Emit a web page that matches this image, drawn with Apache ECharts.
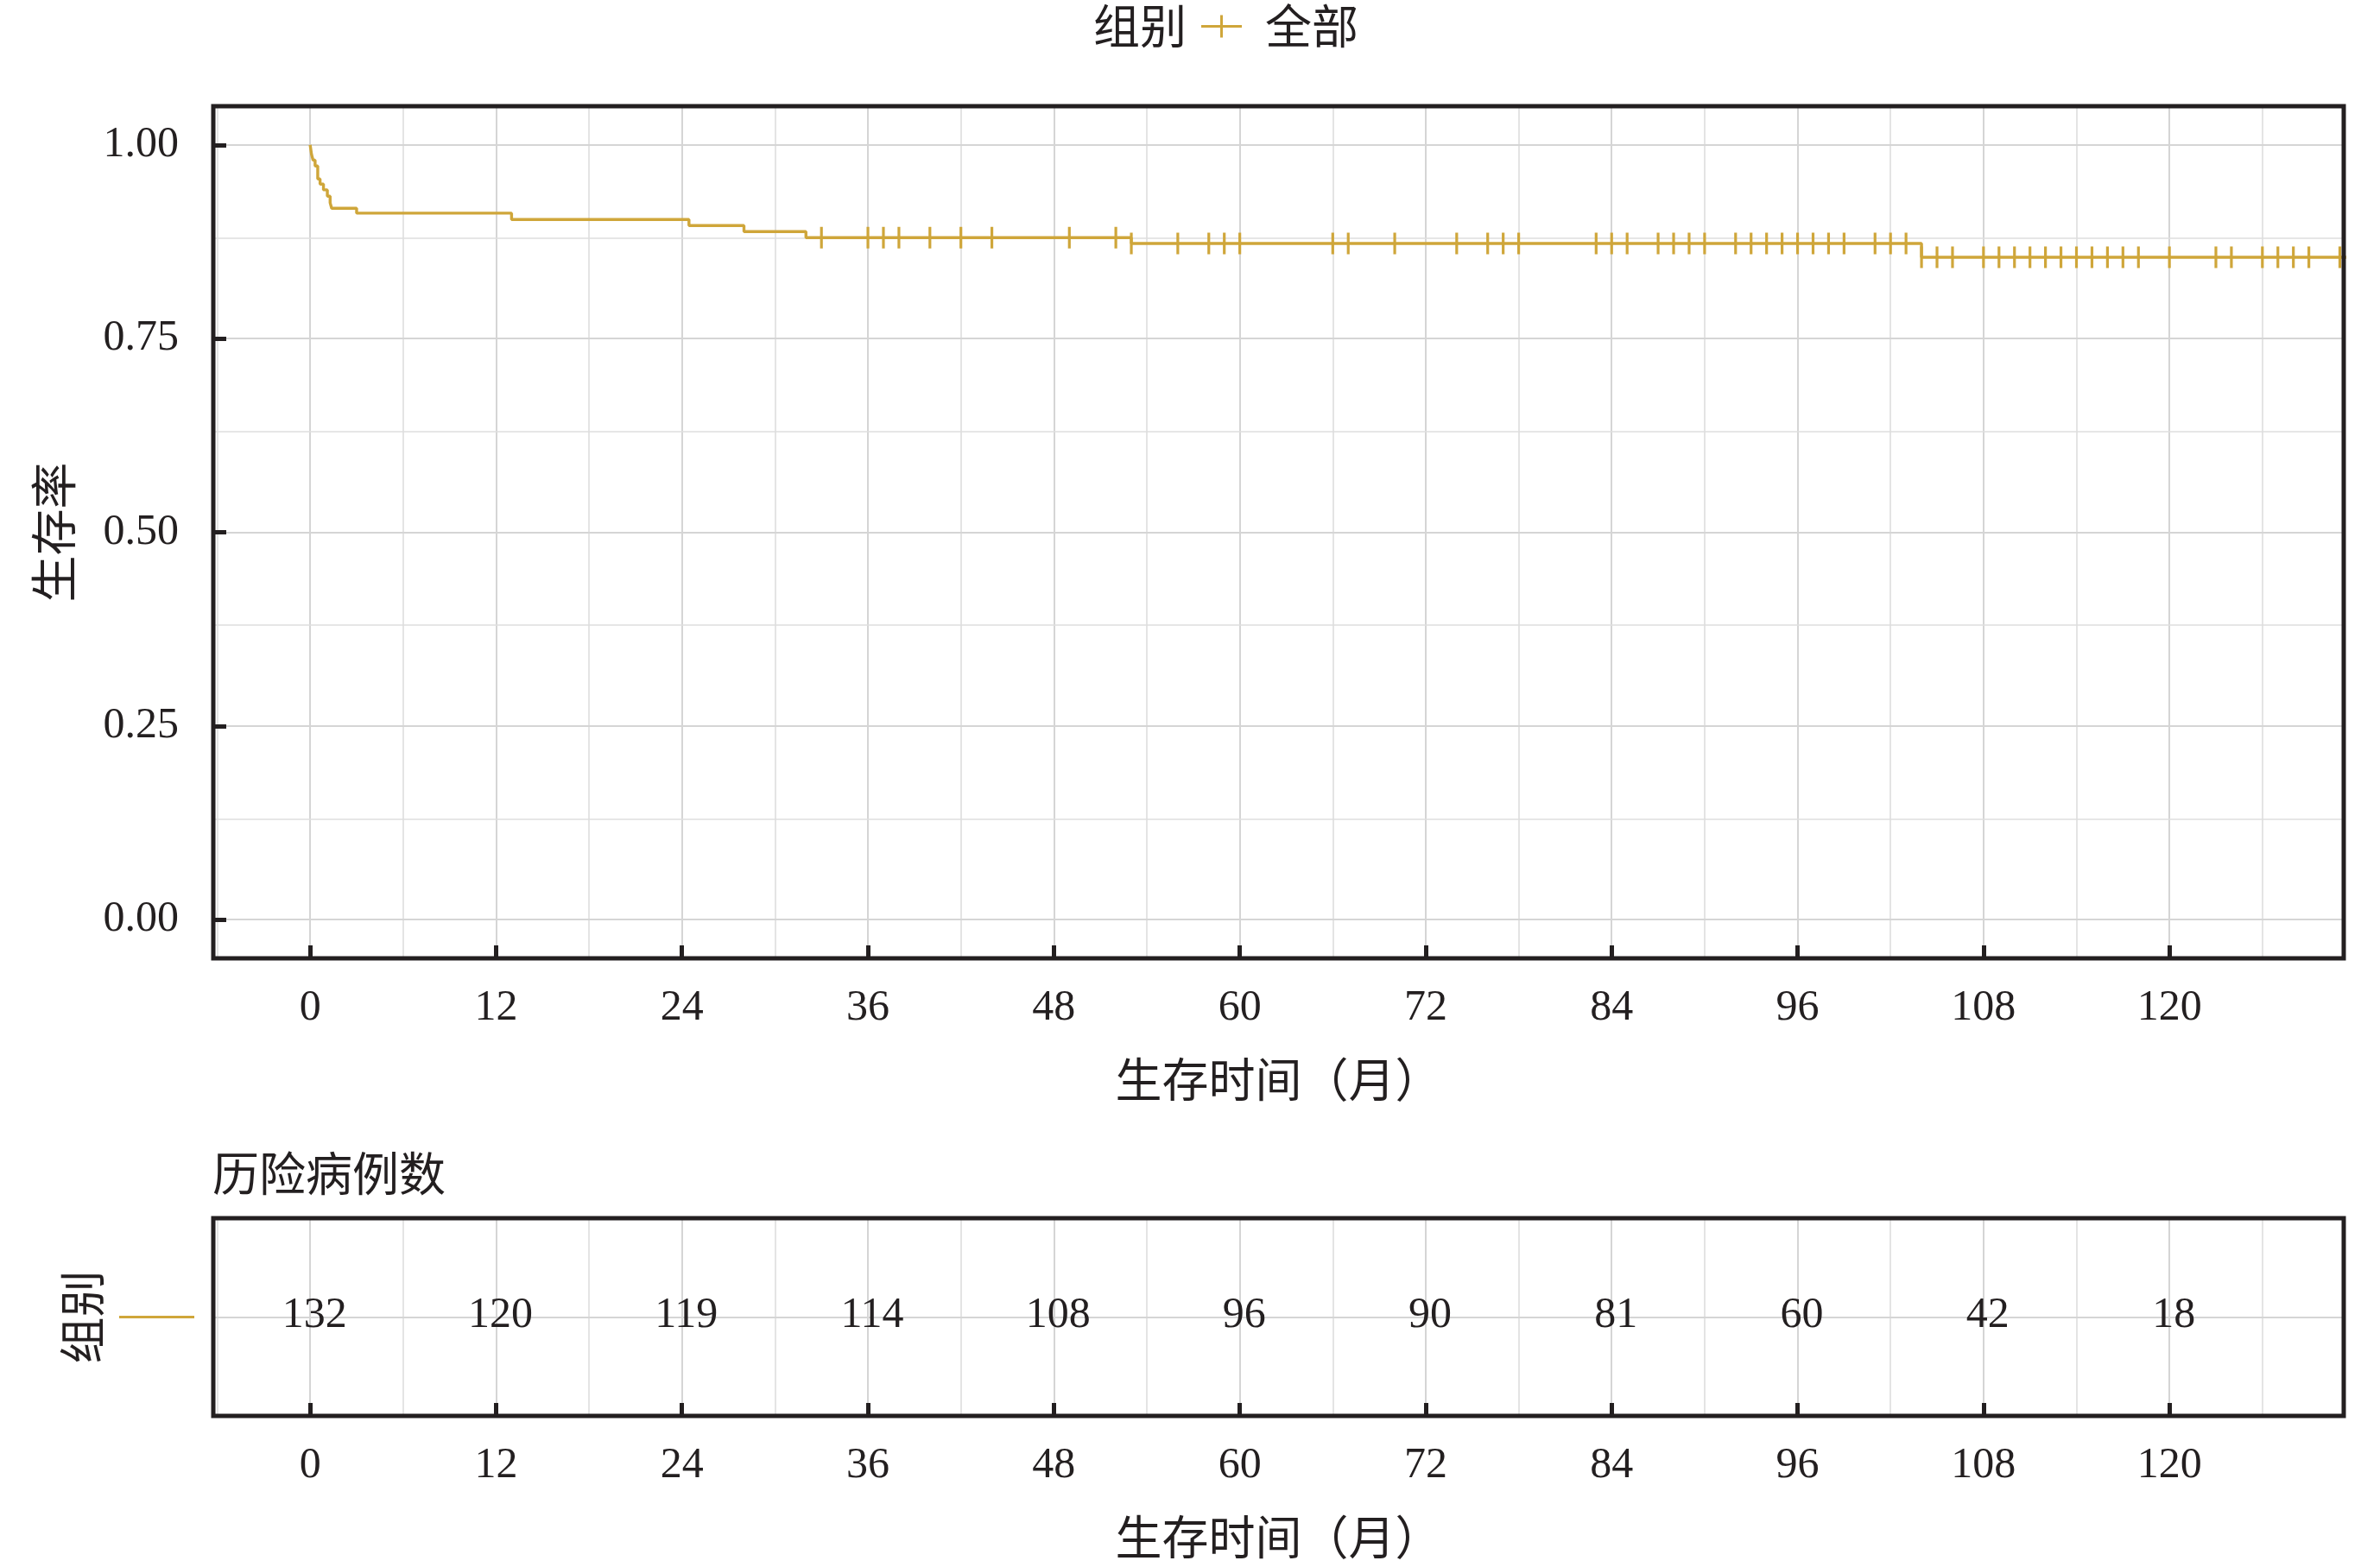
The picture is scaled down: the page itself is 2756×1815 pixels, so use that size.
<!DOCTYPE html>
<html><head><meta charset="utf-8">
<script src="https://cdn.jsdelivr.net/npm/echarts@6/dist/echarts.min.js"></script>
<style>html,body{margin:0;padding:0;background:#fff}#c{width:2756px;height:1815px}</style>
</head><body><div id="c"></div>
<script>
// ---------- data ----------
const groupName = '全部';
const kmTimes = [0, 0.09, 0.19, 0.32, 0.49, 0.64, 0.86, 1.11, 1.29, 1.39, 3.0, 13.0, 24.45, 28.0, 32.0, 53.0, 104.0, 131.9];
const kmSurv  = [1.0, 0.9877, 0.9803, 0.9729, 0.9561, 0.9495, 0.942, 0.9338, 0.9253, 0.9182, 0.9119, 0.9037, 0.8959, 0.8881, 0.8803, 0.8728, 0.855, 0.855];
const censorTimes = [33,36,37,38,40,42,44,49,52,53,56,58,59,60,66,67,70,74,76,77,78,83,84,85,87,88,89,90,92,93,94,95,96,97,98,99,101,102,103,104,105,106,108,109,110,111,112,113,114,115,116,117,118,120,123,124,126,127,128,129,131];
const riskTimes = [0,12,24,36,48,60,72,84,96,108,120];
const riskCounts = [132,120,119,114,108,96,90,81,60,42,18];
const xTicks = [0,12,24,36,48,60,72,84,96,108,120];
const xMinorGrid = [-6,6,18,30,42,54,66,78,90,102,114,126];
const yTicks = [0,0.25,0.5,0.75,1];
const yMinorGrid = [0.125,0.375,0.625,0.875];

// ---------- style ----------
const color = '#CFA63A';
const ink = '#231f20';
const serif = "'Liberation Serif','Noto Sans CJK SC'";
const cjk = "'Noto Sans CJK SC'";
const majorGrid = {color:'#d5d5d5', width:2, type:'solid'};
const minorGrid = {color:'#dedede', width:1.6, type:'solid'};

function survAt(t){ let s = kmSurv[0]; for (let i=0;i<kmTimes.length;i++){ if (kmTimes[i] <= t) s = kmSurv[i]; } return s; }

const gridBase = {show:true, borderColor:ink, borderWidth:5, backgroundColor:'transparent', z:5, outerBoundsMode:'none', containLabel:false};

function xAxisFor(gi){
  return {
    type:'value', gridIndex:gi, min:-6.25, max:131.25, position:'bottom', z:4,
    axisLine:{show:false, onZero:false},
    axisTick:{show:true, inside:true, length:15, customValues:xTicks, lineStyle:{color:ink, width:5, opacity:1}},
    axisLabel:{customValues:xTicks, margin:33, color:ink, fontFamily:serif, fontSize:50},
    splitLine:{show:false},
    name:'生存时间（月）', nameLocation:'middle', nameGap:113, nameMoveOverlap:false,
    nameTextStyle:{fontFamily:cjk, fontSize:54, color:ink}
  };
}

const topGridLines = [
  ...xTicks.map(v=>({xAxis:v, lineStyle:majorGrid})),
  ...xMinorGrid.map(v=>({xAxis:v, lineStyle:minorGrid})),
  ...yTicks.map(v=>({yAxis:v, lineStyle:majorGrid})),
  ...yMinorGrid.map(v=>({yAxis:v, lineStyle:minorGrid}))
];
const riskGridLines = [
  ...xTicks.map(v=>({xAxis:v, lineStyle:majorGrid})),
  ...xMinorGrid.map(v=>({xAxis:v, lineStyle:minorGrid})),
  {yAxis:0, lineStyle:majorGrid}
];

const chart = echarts.init(document.getElementById('c'), null, {renderer:'canvas'});
chart.setOption({
  animation:false,
  backgroundColor:'#ffffff',
  title:[
    {text:'组别', left:1266, top:3.5, padding:0, textStyle:{fontFamily:cjk, fontSize:54, fontWeight:'normal', color:ink}},
    {text:'历险病例数', left:246, top:1332.5, padding:0, textStyle:{fontFamily:cjk, fontSize:54, fontWeight:'normal', color:ink}}
  ],
  legend:{
    left:1391, top:3.5, padding:0, selectedMode:false,
    itemWidth:47, itemHeight:26,
    data:[{name:groupName, icon:'path://M0,11.5h47v3h-47z M22,0h3v26h-3z'}],
    textStyle:{fontFamily:cjk, fontSize:54, color:ink, padding:[0,0,12,22]}
  },
  grid:[
    Object.assign({}, gridBase, {left:247, right:42, top:123, height:987}),
    Object.assign({}, gridBase, {left:247, right:42, top:1411, height:229})
  ],
  xAxis:[xAxisFor(0), xAxisFor(1)],
  yAxis:[
    {
      type:'value', gridIndex:0, min:-0.05, max:1.05, position:'left', z:4,
      axisLine:{show:false, onZero:false},
      axisTick:{show:true, inside:true, length:15, customValues:yTicks, lineStyle:{color:ink, width:5, opacity:1}},
      axisLabel:{customValues:yTicks, margin:40, color:ink, fontFamily:serif, fontSize:50, padding:[0,0,12,0],
        formatter:v=>Number(v).toFixed(2)},
      splitLine:{show:false},
      name:'生存率', nameLocation:'middle', nameRotate:90, nameGap:158, nameMoveOverlap:false,
      nameTextStyle:{fontFamily:cjk, fontSize:54, color:ink}
    },
    {
      type:'category', gridIndex:1, data:[groupName], position:'left', z:4,
      axisLine:{show:false, onZero:false}, axisTick:{show:false}, splitLine:{show:false},
      axisLabel:{margin:22, formatter:()=>'{l| }', rich:{l:{width:87, height:3, backgroundColor:color}}},
      name:'组别', nameLocation:'middle', nameRotate:90, nameGap:125, nameMoveOverlap:false,
      nameTextStyle:{fontFamily:cjk, fontSize:54, color:ink}
    }
  ],
  series:[
    {
      name:groupName, type:'line', xAxisIndex:0, yAxisIndex:0, step:'end', symbol:'none', clip:false, z:2,
      data:kmTimes.map((t,i)=>[t,kmSurv[i]]),
      lineStyle:{color:color, width:3.4}, itemStyle:{color:color},
      markLine:{silent:true, symbol:'none', z:1, label:{show:false}, animation:false, data:topGridLines}
    },
    {
      name:groupName, type:'scatter', xAxisIndex:0, yAxisIndex:0, z:2,
      symbol:'rect', symbolSize:[3.2,25], itemStyle:{color:color, opacity:1},
      data:censorTimes.map(t=>[t, survAt(t)])
    },
    {
      name:'risk', type:'scatter', xAxisIndex:1, yAxisIndex:1, z:2,
      symbol:'circle', symbolSize:1, itemStyle:{color:'rgba(255,255,255,0)', opacity:1},
      data:riskTimes.map((t,i)=>[t, groupName, riskCounts[i]]),
      label:{show:true, position:'inside', offset:[5,-2], formatter:p=>String(p.value[2]),
        fontFamily:serif, fontSize:50, color:ink, opacity:1, textBorderWidth:0},
      markLine:{silent:true, symbol:'none', z:1, label:{show:false}, animation:false, data:riskGridLines}
    }
  ]
});
</script></body></html>
